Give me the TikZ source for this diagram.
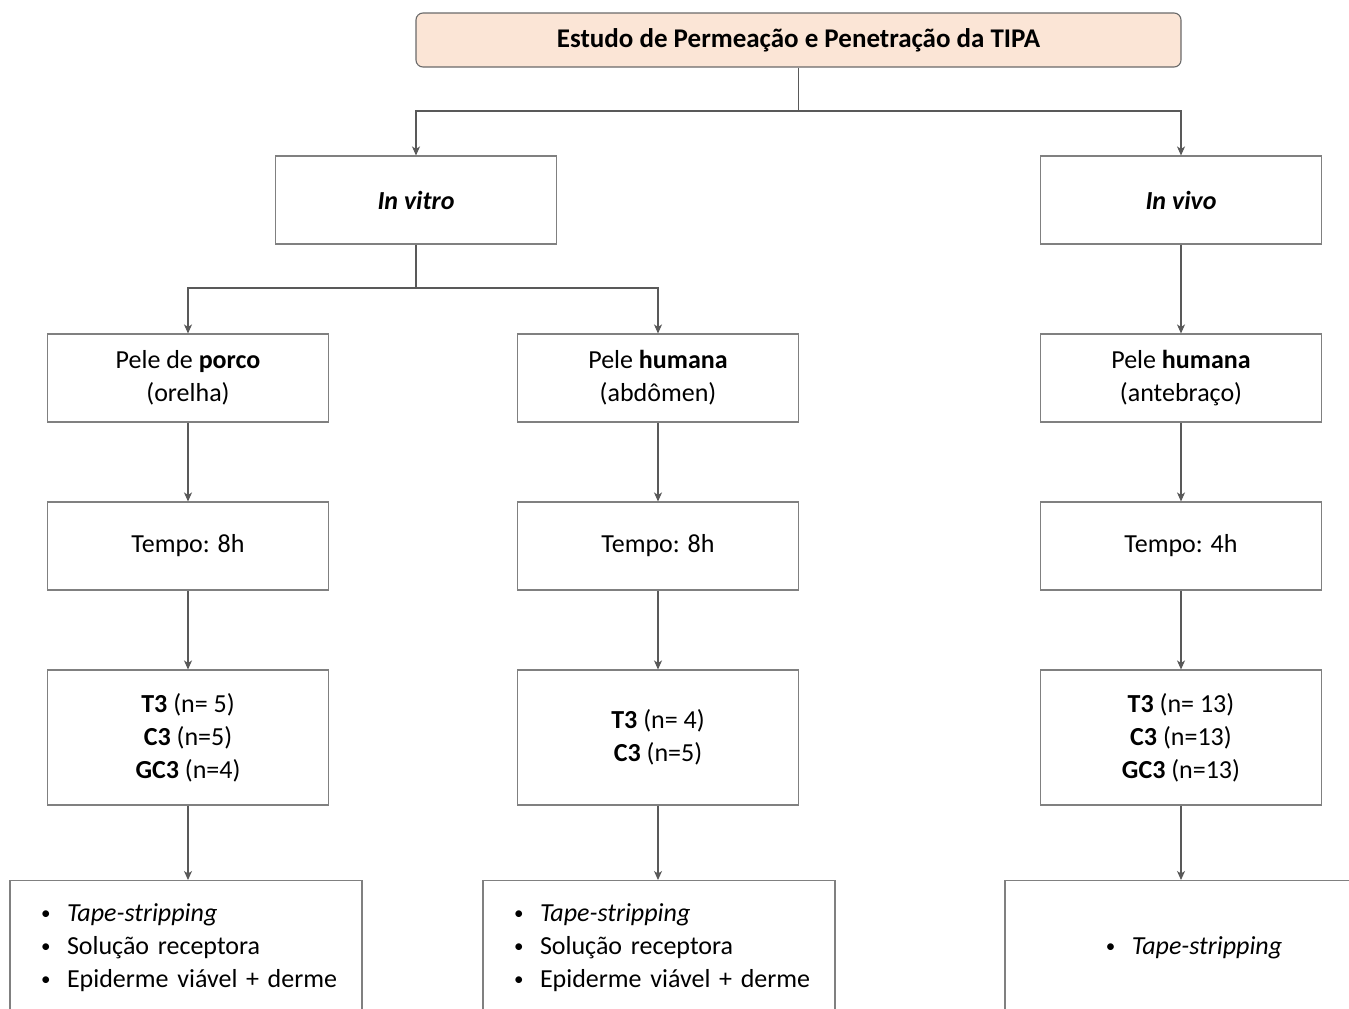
\documentclass[tikz,border=0pt]{standalone}
\usepackage{fontspec}
\setmainfont{Carlito}
\usetikzlibrary{arrows.meta}
\definecolor{boxgray}{HTML}{808080}
\definecolor{linegray}{HTML}{595959}
\definecolor{peach}{HTML}{FBE5D6}
\tikzset{
  box/.style={draw=boxgray, line width=1.1pt, fill=white, minimum width=281pt,
    minimum height=88pt, inner sep=0pt, align=center,
    font=\fontsize{26}{33}\selectfont},
  titlebox/.style={box, fill=peach, draw=linegray!90, rounded corners=7pt,
    minimum width=765pt, minimum height=54pt, font=\fontsize{27}{33}\selectfont\bfseries},
  listbox/.style={box, minimum width=352pt, minimum height=134pt, text width=352pt,
    align=left},
  arr/.style={draw=linegray, line width=1.1pt,
    -{Stealth[length=9pt,width=8pt,inset=2.5pt]}},
  link/.style={draw=linegray, line width=1.1pt}
}
\newcommand{\dotmark}{\makebox[26pt][l]{\raisebox{1.5pt}{\fontsize{19}{33}\selectfont •}}}
\newcommand{\bul}{\hspace*{31pt}\dotmark}
\begin{document}
\begin{tikzpicture}[x=1pt,y=-1pt]
  \useasboundingbox (0,0) rectangle (1349,1009);
  \clip (0,0) rectangle (1349,1009);

  % top of the tree
  \node[titlebox] (title) at (798.5,40) {Estudo de Permeação e Penetração da TIPA};
  \node[box] (vitro) at (416,200) {\textbf{\textit{In vitro}}};
  \node[box] (vivo) at (1181,200) {\textbf{\textit{In vivo}}};

  % skin types
  \node[box] (porco) at (188,378) {Pele de \textbf{porco}\\(orelha)};
  \node[box] (humA) at (658,378) {Pele \textbf{humana}\\(abdômen)};
  \node[box] (humB) at (1181,378) {Pele \textbf{humana}\\(antebraço)};

  % exposure times
  \node[box] (t1) at (188,546) {Tempo: 8h};
  \node[box] (t2) at (658,546) {Tempo: 8h};
  \node[box] (t3) at (1181,546) {Tempo: 4h};

  % formulations
  \node[box, minimum height=135pt] (f1) at (188,737.5)
    {\textbf{T3} (n= 5)\\\textbf{C3} (n=5)\\\textbf{GC3} (n=4)};
  \node[box, minimum height=135pt] (f2) at (658,737.5)
    {\textbf{T3} (n= 4)\\\textbf{C3} (n=5)};
  \node[box, minimum height=135pt] (f3) at (1181,737.5)
    {\textbf{T3} (n= 13)\\\textbf{C3} (n=13)\\\textbf{GC3} (n=13)};

  % analysed compartments
  \node[listbox, anchor=north] (c1) at (186,880)
    {\bul\textit{Tape-stripping}\\\bul Solução receptora\\\bul Epiderme viável + derme};
  \node[listbox, anchor=north] (c2) at (659,880)
    {\bul\textit{Tape-stripping}\\\bul Solução receptora\\\bul Epiderme viável + derme};
  \node[box, anchor=north, minimum width=352pt, minimum height=134pt] (c3) at (1181,880)
    {\hspace*{26pt}\dotmark\textit{Tape-stripping}};

  % connectors
  \coordinate (s1) at (798.5,111);
  \coordinate (s2) at (416,288);
  \draw[link] (title.south) -- (s1);
  \draw[arr] (s1) -| (vitro.north);
  \draw[arr] (s1) -| (vivo.north);
  \draw[link] (vitro.south) -- (s2);
  \draw[arr] (s2) -| (porco.north);
  \draw[arr] (s2) -| (humA.north);
  \draw[arr] (vivo) -- (humB);

  \draw[arr] (porco) -- (t1);
  \draw[arr] (humA) -- (t2);
  \draw[arr] (humB) -- (t3);
  \draw[arr] (t1) -- (f1);
  \draw[arr] (t2) -- (f2);
  \draw[arr] (t3) -- (f3);
  \draw[arr] (f1.south) -- (c1.north -| f1.south);
  \draw[arr] (f2.south) -- (c2.north -| f2.south);
  \draw[arr] (f3) -- (c3);
\end{tikzpicture}
\end{document}
